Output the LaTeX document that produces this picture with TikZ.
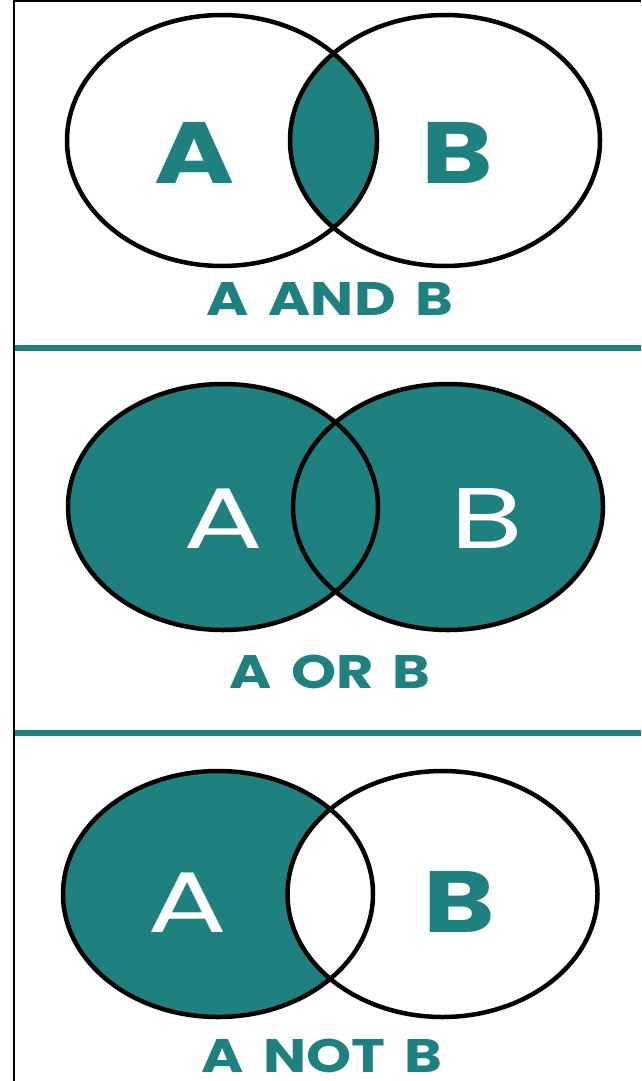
\documentclass[tikz,border=0pt]{standalone}
\usepackage{fontspec}
\setmainfont{Poppins}
\newfontfamily\lblfont[WordSpace=1.6]{Poppins}
\definecolor{vteal}{RGB}{31,128,128}
\newcommand{\wideB}[1]{\scalebox{1.25}[1]{#1}}
\newcommand{\wideM}[1]{\scalebox{1.38}[1]{#1}}
\newcommand{\wideL}[1]{\scalebox{1.22}[1]{#1}}
\begin{document}
\begin{tikzpicture}[x=1pt,y=-1pt,
  vline/.style={line width=4.5pt, draw=black},
  sep/.style={line width=6pt, draw=vteal},
  bigb/.style={font=\fontsize{87}{87}\selectfont\bfseries, anchor=base, inner sep=0pt},
  bigr/.style={font=\fontsize{86}{86}\selectfont, anchor=base, inner sep=0pt},
  lbl/.style={font=\fontsize{47}{47}\selectfont\lblfont\bfseries, text=vteal, anchor=base, inner sep=0pt}]
\useasboundingbox (0,0) rectangle (641,1081);
\fill[white] (0,0) rectangle (641,1081);
% frame
\draw[line width=2pt] (14,0) -- (14,1081);
\draw[line width=2pt] (13,1) -- (641,1);
% separators
\coordinate (s1l) at (15,348); \coordinate (s1r) at (641,348);
\coordinate (s2l) at (15,733); \coordinate (s2r) at (641,733);
\draw[sep] (s1l) -- (s1r);
\draw[sep] (s2l) -- (s2r);
% ---------- panel 1: A AND B ----------
\begin{scope}
  \clip (222,140.5) ellipse [x radius=155pt, y radius=125.5pt];
  \fill[vteal] (445,140.5) ellipse [x radius=155pt, y radius=125.5pt];
\end{scope}
\draw[vline] (222,140.5) ellipse [x radius=155pt, y radius=125.5pt];
\draw[vline] (445,140.5) ellipse [x radius=155pt, y radius=125.5pt];
\node[bigb, text=vteal] (a1) at (195,183) {\wideB{A}};
\node[bigb, text=vteal] (b1) at (457,183) {\wideB{B}};
\node[lbl] (l1) at (330,315) {\wideL{A AND B}};
% ---------- panel 2: A OR B ----------
\fill[vteal] (223,507) ellipse [x radius=155pt, y radius=123pt];
\fill[vteal] (448,507) ellipse [x radius=155pt, y radius=123pt];
\draw[vline] (223,507) ellipse [x radius=155pt, y radius=123pt];
\draw[vline] (448,507) ellipse [x radius=155pt, y radius=123pt];
\node[bigr, text=white] (a2) at (223,548) {\wideM{A}};
\node[bigr, text=white] (b2) at (487,548) {\wideM{B}};
\node[lbl] (l2) at (330,688) {\wideL{A OR B}};
% ---------- panel 3: A NOT B ----------
\fill[vteal] (218,894) ellipse [x radius=155pt, y radius=123pt];
\begin{scope}
  \clip (218,894) ellipse [x radius=155pt, y radius=123pt];
  \fill[white] (442.5,894) ellipse [x radius=155pt, y radius=123pt];
\end{scope}
\draw[vline] (218,894) ellipse [x radius=155pt, y radius=123pt];
\draw[vline] (442.5,894) ellipse [x radius=155pt, y radius=123pt];
\node[bigr, text=white] (a3) at (187,932) {\wideM{A}};
\node[bigb, text=vteal] (b3) at (459,932) {\wideB{B}};
\node[lbl] (l3) at (322,1072) {\wideL{A NOT B}};
\end{tikzpicture}
\end{document}
